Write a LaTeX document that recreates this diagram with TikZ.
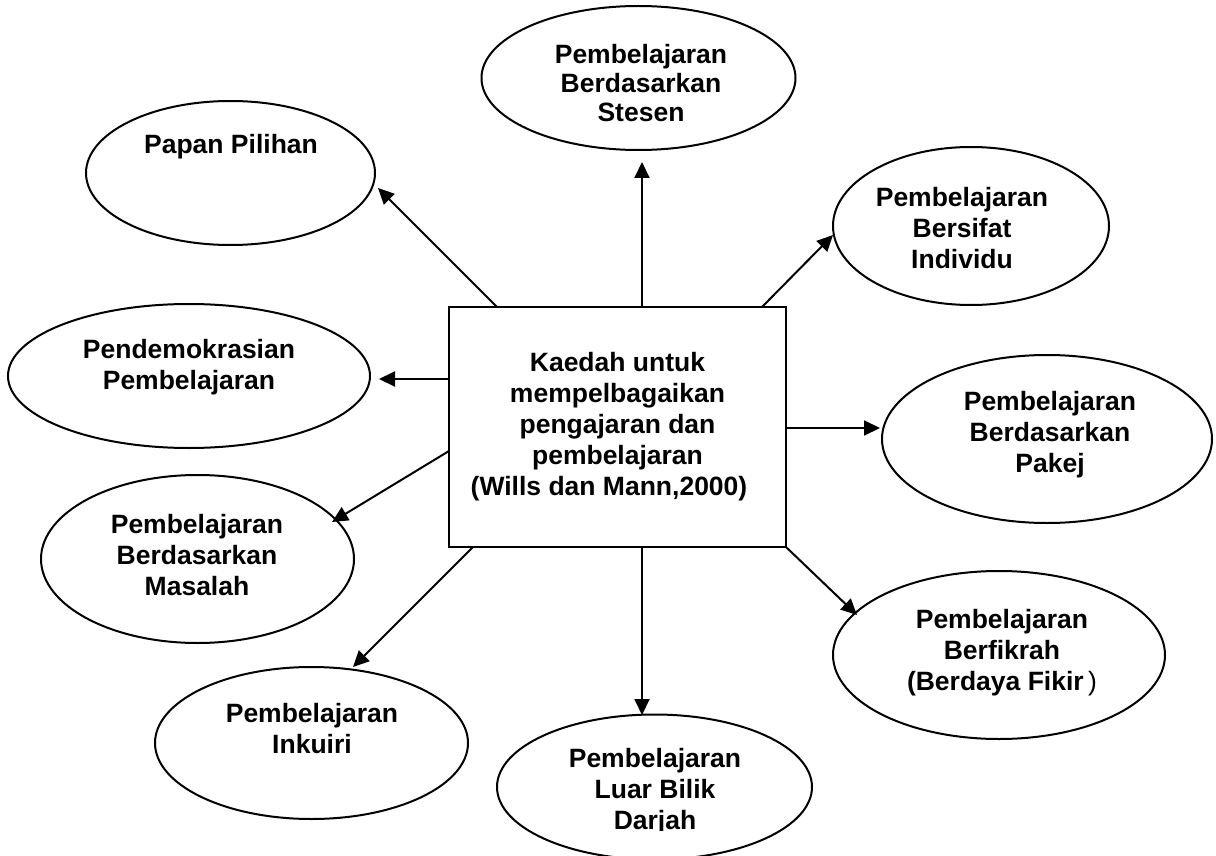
\documentclass[tikz,border=0pt]{standalone}
\usepackage{fontspec}
\setmainfont{Liberation Sans}
\usetikzlibrary{shapes.geometric,arrows.meta}

\begin{document}
\begin{tikzpicture}[x=1pt,y=-1pt,
  oval/.style={draw,line width=2pt,ellipse,inner sep=0pt},
  caption/.style={align=center,font=\fontsize{26.5}{31}\selectfont\bfseries,inner sep=0pt},
  hub/.style={draw,line width=2.4pt,rectangle,inner sep=0pt},
  arr/.style={line width=2pt,-{Triangle[length=16pt,width=15pt]}}
]
\useasboundingbox (0,0) rectangle (1216,856);

% central box
\node[hub,minimum width=337pt,minimum height=240pt] (hub) at (617.5,427) {};
\node[caption] (hubtxt) at (617.5,427) {Kaedah untuk\\mempelbagaikan\\pengajaran dan\\pembelajaran\\(Wills dan Mann,2000)\hspace*{17pt}};

% surrounding methods
\node[oval,minimum width=314pt,minimum height=144pt] (stesen) at (638.5,78) {};
\node[caption,font=\fontsize{26.5}{29}\selectfont\bfseries] (stesentxt) at (641,83) {Pembelajaran\\Berdasarkan\\Stesen};

\node[oval,minimum width=289pt,minimum height=144pt] (papan) at (230.5,173) {};
\node[caption] (papantxt) at (231,147) {Papan Pilihan};

\node[oval,minimum width=276pt,minimum height=158pt] (individu) at (971,226) {};
\node[caption] (individutxt) at (962,228) {Pembelajaran\\Bersifat\\Individu};

\node[oval,minimum width=362pt,minimum height=144pt] (demo) at (189,376) {};
\node[caption] (demotxt) at (189,367) {Pendemokrasian\\Pembelajaran};

\node[oval,minimum width=330pt,minimum height=168pt] (pakej) at (1047,439) {};
\node[caption] (pakejtxt) at (1050,435) {Pembelajaran\\Berdasarkan\\Pakej};

\node[oval,minimum width=313pt,minimum height=168pt] (masalah) at (197.5,559) {};
\node[caption] (masalahtxt) at (197,555) {Pembelajaran\\Berdasarkan\\Masalah};

\node[oval,minimum width=332pt,minimum height=168pt] (fikrah) at (999,655) {};
\node[caption] (fikrahtxt) at (1002,653) {Pembelajaran\\Berfikrah\\(Berdaya Fikir{\mdseries\,)}};

\node[oval,minimum width=313pt,minimum height=152pt] (inkuiri) at (311.5,743) {};
\node[caption] (inkuiritxt) at (312,729) {Pembelajaran\\Inkuiri};

\node[oval,minimum width=315pt,minimum height=145pt] (luar) at (654.5,787) {};
\begin{scope}
  \clip (0,0) rectangle (1216,830);
  \node[caption] (luartxt) at (655,792) {Pembelajaran\\Luar Bilik\\Darjah};
\end{scope}

% connector ends on the box and at the ovals
\coordinate (sStesen) at (642,307);   \coordinate (tStesen) at (642,162);
\coordinate (sPapan) at (497,307);    \coordinate (tPapan) at (378,188);
\coordinate (sIndiv) at (762,307);    \coordinate (tIndiv) at (833,235);
\coordinate (sDemo) at (449,379);     \coordinate (tDemo) at (379,379);
\coordinate (sPakej) at (786,428);    \coordinate (tPakej) at (880,428);
\coordinate (sMasalah) at (449,451);  \coordinate (tMasalah) at (332,522);
\coordinate (sInkuiri) at (473,547);  \coordinate (tInkuiri) at (353,667);
\coordinate (sLuar) at (642,547);     \coordinate (tLuar) at (642,715);
\coordinate (sFikrah) at (786,547);   \coordinate (tFikrah) at (857,615);

\draw[arr] (sStesen) -- (tStesen);
\draw[arr] (sPapan) -- (tPapan);
\draw[arr] (sIndiv) -- (tIndiv);
\draw[arr] (sDemo) -- (tDemo);
\draw[arr] (sPakej) -- (tPakej);
\draw[arr] (sMasalah) -- (tMasalah);
\draw[arr] (sInkuiri) -- (tInkuiri);
\draw[arr] (sLuar) -- (tLuar);
\draw[arr] (sFikrah) -- (tFikrah);
\end{tikzpicture}
\end{document}
